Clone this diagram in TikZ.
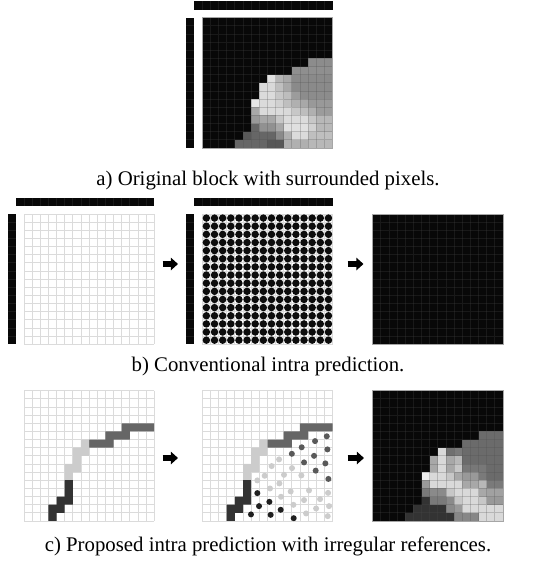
\documentclass[tikz,border=0pt]{standalone}
\usepackage{fontspec}
\setmainfont{Liberation Serif}
\usetikzlibrary{arrows.meta}

\newcommand{\cellgrid}[1]{\foreach \k in {0,...,16} {\draw[#1] (\k,0) -- (\k,16) (0,\k) -- (16,\k);}}
\newcommand{\refbars}{%
	\fill[black!97] (-2,0) rectangle (-1,16);
	\fill[black!97] (-1,-2) rectangle (16,-1);
	\foreach \k in {1,...,15} {\draw[darkgrid] (-2,\k) -- (-1,\k);}
	\foreach \k in {0,...,15} {\draw[darkgrid] (\k,-2) -- (\k,-1);}
}
\newcommand{\irrefs}{%
	\fill[black!60] (12,4) rectangle (16,5) (10,5) rectangle (13,6) (8,6) rectangle (11,7);
	\fill[black!20] (7,6) rectangle (8,7) (6,7) rectangle (8,8) (6,8) rectangle (7,9) (5,9) rectangle (7,10) (5,10) rectangle (6,11);
	\fill[black!80] (5,11) rectangle (6,13) (4,13) rectangle (6,14) (3,14) rectangle (5,15) (3,15) rectangle (4,16);
}

\begin{document}
\begin{tikzpicture}[x=0.5pt, y=-0.5pt,
		lightgrid/.style={draw=black!14, line width=0.4pt},
		darkgrid/.style={draw=black!70, draw opacity=0.25, line width=0.4pt},
		frame/.style={draw=black!35, line width=0.4pt},
		blockarrow/.style={line width=2.6pt, -{Triangle[length=3.6pt, width=6.2pt]}},
		caption/.style={font=\fontsize{10.4}{12.5}\selectfont, inner sep=0pt}]
	\useasboundingbox (0,0) rectangle (536,563);

	% a) original block
	\begin{scope}[shift={(202.3,17.7)}, x=4.07pt, y=-4.07pt]
		\refbars
		\fill[black!97] (0,0) rectangle (16,16);
		\fill[black!45] (13,5) rectangle (16,6);
		\fill[black!44] (11,6) rectangle (16,7);
		\fill[black!12] (8,7) rectangle (9,8);
		\fill[black!29] (9,7) rectangle (10,8);
		\fill[black!34] (10,7) rectangle (11,8);
		\fill[black!46] (11,7) rectangle (16,8);
		\fill[black!14] (7,8) rectangle (8,9);
		\fill[black!15] (8,8) rectangle (9,9);
		\fill[black!25] (9,8) rectangle (10,9);
		\fill[black!34] (10,8) rectangle (11,9);
		\fill[black!46] (11,8) rectangle (16,9);
		\fill[black!14] (7,9) rectangle (9,10);
		\fill[black!22] (9,9) rectangle (10,10);
		\fill[black!26] (10,9) rectangle (11,10);
		\fill[black!39] (11,9) rectangle (12,10);
		\fill[black!45] (12,9) rectangle (16,10);
		\fill[black!9] (6,10) rectangle (7,11);
		\fill[black!14] (7,10) rectangle (9,11);
		\fill[black!18] (9,10) rectangle (10,11);
		\fill[black!25] (10,10) rectangle (11,11);
		\fill[black!31] (11,10) rectangle (12,11);
		\fill[black!34] (12,10) rectangle (13,11);
		\fill[black!40] (13,10) rectangle (16,11);
		\fill[black!34] (6,11) rectangle (7,12);
		\fill[black!14] (7,11) rectangle (10,12);
		\fill[black!15] (10,11) rectangle (11,12);
		\fill[black!22] (11,11) rectangle (12,12);
		\fill[black!26] (12,11) rectangle (13,12);
		\fill[black!31] (13,11) rectangle (14,12);
		\fill[black!39] (14,11) rectangle (16,12);
		\fill[black!40] (6,12) rectangle (7,13);
		\fill[black!34] (7,12) rectangle (9,13);
		\fill[black!22] (9,12) rectangle (10,13);
		\fill[black!14] (10,12) rectangle (13,13);
		\fill[black!22] (13,12) rectangle (14,13);
		\fill[black!28] (14,12) rectangle (16,13);
		\fill[black!60] (6,13) rectangle (7,14);
		\fill[black!43] (7,13) rectangle (9,14);
		\fill[black!34] (9,13) rectangle (10,14);
		\fill[black!12] (10,13) rectangle (13,14);
		\fill[black!18] (13,13) rectangle (14,14);
		\fill[black!28] (14,13) rectangle (16,14);
		\fill[black!65] (5,14) rectangle (6,15);
		\fill[black!60] (6,14) rectangle (9,15);
		\fill[black!46] (9,14) rectangle (10,15);
		\fill[black!31] (10,14) rectangle (11,15);
		\fill[black!14] (11,14) rectangle (13,15);
		\fill[black!25] (13,14) rectangle (16,15);
		\fill[black!60] (4,15) rectangle (8,16);
		\fill[black!66] (8,15) rectangle (10,16);
		\fill[black!31] (10,15) rectangle (13,16);
		\fill[black!28] (13,15) rectangle (16,16);
		\cellgrid{darkgrid}
		\draw[frame] (0,0) rectangle (16,16);
	\end{scope}
	\node[caption] (capA) at (268,181) {a) Original block with surrounded pixels.};

	% b) conventional intra prediction
	\begin{scope}[shift={(24,214)}, x=4.07pt, y=-4.07pt]
		\refbars
		\cellgrid{lightgrid}
	\end{scope}
	\begin{scope}[shift={(202.3,214)}, x=4.07pt, y=-4.07pt]
		\refbars
		\cellgrid{lightgrid}
		\foreach \c in {0,...,15} {
			\foreach \r in {0,...,15} {\fill[black!95] (\c+0.5,\r+0.5) circle (0.46);}
		}
	\end{scope}
	\begin{scope}[shift={(372.7,214)}, x=4.07pt, y=-4.07pt]
		\fill[black!97] (0,0) rectangle (16,16);
		\cellgrid{darkgrid}
		\draw[frame] (0,0) rectangle (16,16);
	\end{scope}
	\coordinate (bOneOut) at (162.5,264);
	\coordinate (bTwoIn) at (178,264);
	\coordinate (bTwoOut) at (347.5,264);
	\coordinate (bThreeIn) at (363.5,264);
	\draw[blockarrow] (bOneOut) -- (bTwoIn);
	\draw[blockarrow] (bTwoOut) -- (bThreeIn);
	\node[caption] (capB) at (268,366) {b) Conventional intra prediction.};

	% c) proposed intra prediction
	\begin{scope}[shift={(24,390.7)}, x=4.07pt, y=-4.07pt]
		\cellgrid{lightgrid}
		\irrefs
	\end{scope}
	\begin{scope}[shift={(202.3,390.7)}, x=4.07pt, y=-4.07pt]
		\cellgrid{lightgrid}
		\irrefs
		\foreach \p in {(15.29,5.6), (13.85,6.19), (12.21,6.95), (11.0,7.75), (15.37,7.21), (13.73,8.0), (12.5,8.81), (15.12,8.93), (13.93,9.82), (15.49,10.84)}
			{\fill[black!65] \p circle (0.37);}
		\foreach \p in {(9.43,8.44), (8.52,9.26), (11.02,9.51), (7.66,10.45), (10.04,10.33), (6.76,11.02), (12.17,10.41), (8.32,12.01), (9.47,11.39), (10.86,12.38), (13.11,12.25), (15.45,12.55), (14.47,13.32), (15.57,14.18), (9.67,13.03), (11.19,14.02), (12.5,13.44), (13.98,14.47), (15.41,15.41), (12.75,15.08)}
			{\fill[black!20] \p circle (0.37);}
		\foreach \p in {(6.76,12.58), (6.97,14.18), (8.24,13.65), (5.98,15.2), (8.4,15.25), (9.63,14.63), (11.23,15.66)}
			{\fill[black!88] \p circle (0.37);}
	\end{scope}
	\begin{scope}[shift={(372.7,390.7)}, x=4.07pt, y=-4.07pt]
		\fill[black!97] (0,0) rectangle (16,16);
		\fill[black!58] (13,5) rectangle (16,6);
		\fill[black!58] (11,6) rectangle (16,7);
		\fill[black!15] (8,7) rectangle (9,8);
		\fill[black!56] (9,7) rectangle (10,8);
		\fill[black!52] (10,7) rectangle (11,8);
		\fill[black!58] (11,7) rectangle (16,8);
		\fill[black!34] (7,8) rectangle (8,9);
		\fill[black!15] (8,8) rectangle (9,9);
		\fill[black!34] (9,8) rectangle (10,9);
		\fill[black!28] (10,8) rectangle (11,9);
		\fill[black!58] (11,8) rectangle (16,9);
		\fill[black!34] (7,9) rectangle (8,10);
		\fill[black!15] (8,9) rectangle (9,10);
		\fill[black!34] (9,9) rectangle (10,10);
		\fill[black!22] (10,9) rectangle (11,10);
		\fill[black!53] (11,9) rectangle (14,10);
		\fill[black!58] (14,9) rectangle (16,10);
		\fill[black!7] (6,10) rectangle (7,11);
		\fill[black!15] (7,10) rectangle (9,11);
		\fill[black!22] (9,10) rectangle (10,11);
		\fill[black!34] (10,10) rectangle (11,11);
		\fill[black!40] (11,10) rectangle (13,11);
		\fill[black!52] (13,10) rectangle (14,11);
		\fill[black!58] (14,10) rectangle (16,11);
		\fill[black!40] (6,11) rectangle (7,12);
		\fill[black!15] (7,11) rectangle (11,12);
		\fill[black!34] (11,11) rectangle (13,12);
		\fill[black!28] (13,11) rectangle (14,12);
		\fill[black!52] (14,11) rectangle (16,12);
		\fill[black!52] (6,12) rectangle (7,13);
		\fill[black!46] (7,12) rectangle (9,13);
		\fill[black!22] (9,12) rectangle (10,13);
		\fill[black!15] (10,12) rectangle (13,13);
		\fill[black!34] (13,12) rectangle (14,13);
		\fill[black!37] (14,12) rectangle (16,13);
		\fill[black!80] (6,13) rectangle (7,14);
		\fill[black!52] (7,13) rectangle (9,14);
		\fill[black!46] (9,13) rectangle (10,14);
		\fill[black!22] (10,13) rectangle (11,14);
		\fill[black!15] (11,13) rectangle (13,14);
		\fill[black!22] (13,13) rectangle (14,14);
		\fill[black!40] (14,13) rectangle (16,14);
		\fill[black!80] (5,14) rectangle (9,15);
		\fill[black!46] (9,14) rectangle (10,15);
		\fill[black!40] (10,14) rectangle (11,15);
		\fill[black!15] (11,14) rectangle (16,15);
		\fill[black!80] (4,15) rectangle (10,16);
		\fill[black!47] (10,15) rectangle (13,16);
		\fill[black!15] (13,15) rectangle (16,16);
		\cellgrid{darkgrid}
		\draw[frame] (0,0) rectangle (16,16);
	\end{scope}
	\coordinate (cOneOut) at (162.5,458);
	\coordinate (cTwoIn) at (178,458);
	\coordinate (cTwoOut) at (347.5,458);
	\coordinate (cThreeIn) at (364,458);
	\draw[blockarrow] (cOneOut) -- (cTwoIn);
	\draw[blockarrow] (cTwoOut) -- (cThreeIn);
	\node[caption] (capC) at (268,546) {c) Proposed intra prediction with irregular references.};
\end{tikzpicture}
\end{document}
